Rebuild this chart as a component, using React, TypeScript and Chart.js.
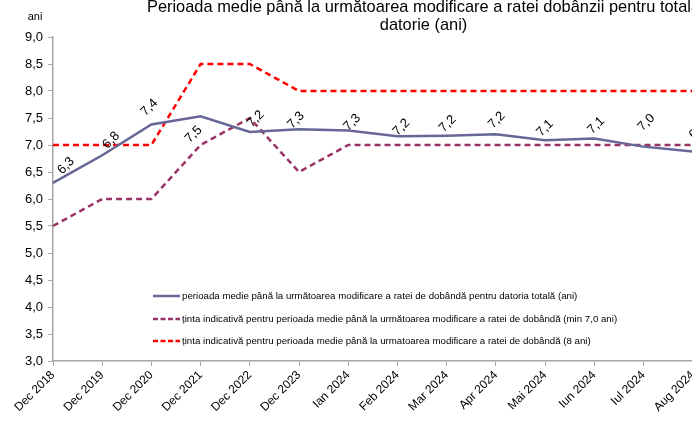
import React, { useEffect, useRef } from 'react';
import { Chart, registerables } from 'chart.js';

Chart.register(...registerables);

const CATEGORIES = [
  'Dec 2018', 'Dec 2019', 'Dec 2020', 'Dec 2021', 'Dec 2022', 'Dec 2023',
  'Ian 2024', 'Feb 2024', 'Mar 2024', 'Apr 2024', 'Mai 2024', 'Iun 2024', 'Iul 2024', 'Aug 2024',
];
const AVERAGE_PERIOD = [6.30, 6.81, 7.38, 7.53, 7.24, 7.29, 7.27, 7.16, 7.17, 7.20, 7.09, 7.12, 6.97, 6.88];
const TARGET_MIN = [5.5, 6.0, 6.0, 7.0, 7.5, 6.5, 7.0, 7.0, 7.0, 7.0, 7.0, 7.0, 7.0, 7.0];
const TARGET_8 = [7.0, 7.0, 7.0, 8.5, 8.5, 8.0, 8.0, 8.0, 8.0, 8.0, 8.0, 8.0, 8.0, 8.0];
const SERIES_LABELS = [
  'perioada medie până la următoarea modificare a ratei de dobândă pentru datoria totală (ani)',
  'ținta indicativă pentru perioada medie până la următoarea modificare a ratei de dobândă (min 7,0 ani)',
  'ținta indicativă pentru perioada medie până la urmatoarea modificare a ratei de dobândă (8 ani)',
];
const Y_MIN = 3;
const Y_MAX = 9;
const Y_STEP = 0.5;
const TITLE_LINES = [
  'Perioada medie până la următoarea modificare a ratei dobânzii pentru totală',
  'datorie (ani)',
];
const UNIT_LABEL = 'ani';

// style: offsets of the rotated value labels (label centre relative to point)
const LABEL_OFFSETS: [number, number][] = [
  [13, -17], [9, -15], [-2, -17], [-7, 18], [6, -13], [-3, -9], [4, -8],
  [4, -9], [1, -12], [1, -14], [0, -12], [2, -13], [3, -24], [5, -21],
];

const FONT = '"Liberation Sans", Arial, sans-serif';
const fmt = (v: number) => v.toFixed(1).replace('.', ',');

const decorPlugin = {
  id: 'decor',
  afterDatasetsDraw(chart: any) {
    const ctx = chart.ctx;
    const meta = chart.getDatasetMeta(0);
    ctx.save();
    ctx.font = `13px ${FONT}`;
    ctx.fillStyle = '#000';
    ctx.textAlign = 'center';
    ctx.textBaseline = 'middle';
    meta.data.forEach((pt: any, i: number) => {
      const [dx, dy] = LABEL_OFFSETS[i] || [0, -13];
      ctx.save();
      ctx.translate(pt.x + dx, pt.y + dy);
      ctx.rotate(-Math.PI / 4);
      ctx.fillText(fmt(AVERAGE_PERIOD[i]), 0, 0);
      ctx.restore();
    });
    ctx.restore();
  },
  afterDraw(chart: any) {
    const ctx = chart.ctx;
    ctx.save();
    // title
    ctx.font = `16.4px ${FONT}`;
    ctx.fillStyle = '#000';
    ctx.textAlign = 'center';
    ctx.textBaseline = 'alphabetic';
    ctx.fillText(TITLE_LINES[0], 423.5, 12);
    ctx.fillText(TITLE_LINES[1], 423.5, 30);
    // unit label
    ctx.font = `11px ${FONT}`;
    ctx.fillText(UNIT_LABEL, 35, 20);
    // legend
    const rows = [296, 319, 341];
    ctx.font = `9.7px ${FONT}`;
    ctx.textAlign = 'left';
    ctx.textBaseline = 'middle';
    chart.data.datasets.forEach((ds: any, i: number) => {
      const y = rows[i];
      ctx.save();
      ctx.strokeStyle = ds.borderColor;
      ctx.lineWidth = ds.borderWidth;
      ctx.setLineDash(ds.borderDash ? [5, 2.5] : []);
      ctx.beginPath();
      ctx.moveTo(153, y);
      ctx.lineTo(180, y);
      ctx.stroke();
      ctx.restore();
      ctx.fillStyle = '#000';
      ctx.fillText(ds.label, 182, y + 0.5);
    });
    ctx.restore();
  },
};

export default function App() {
  const ref = useRef<HTMLCanvasElement | null>(null);

  useEffect(() => {
    if (!ref.current) return;
    const chart = new Chart(ref.current, {
      type: 'line',
      data: {
        labels: CATEGORIES,
        datasets: [
          {
            label: SERIES_LABELS[0],
            data: AVERAGE_PERIOD,
            borderColor: '#666699',
            backgroundColor: '#666699',
            borderWidth: 2.5,
            pointRadius: 0,
            tension: 0,
          },
          {
            label: SERIES_LABELS[1],
            data: TARGET_MIN,
            borderColor: '#993366',
            backgroundColor: '#993366',
            borderWidth: 2.5,
            borderDash: [6, 4],
            pointRadius: 0,
            tension: 0,
          },
          {
            label: SERIES_LABELS[2],
            data: TARGET_8,
            borderColor: '#ff0000',
            backgroundColor: '#ff0000',
            borderWidth: 2.5,
            borderDash: [6, 4],
            pointRadius: 0,
            tension: 0,
          },
        ],
      },
      options: {
        responsive: false,
        animation: false,
        layout: { padding: { top: 37, right: 27.4, left: 0, bottom: 0 } },
        plugins: {
          legend: { display: false },
          title: { display: false },
          tooltip: { enabled: false },
        },
        scales: {
          x: {
            offset: false,
            afterFit: (s: any) => { s.height = 60; },
            grid: { drawOnChartArea: false, drawTicks: true, tickLength: 5, color: '#a6a6a6' },
            border: { color: '#a6a6a6', width: 1.5 },
            ticks: {
              autoSkip: false,
              maxRotation: 45,
              minRotation: 45,
              padding: 2,
              color: '#000',
              font: { family: FONT, size: 12 },
            },
          },
          y: {
            min: Y_MIN,
            max: Y_MAX,
            afterFit: (s: any) => { s.width = 53; },
            grid: { drawOnChartArea: false, drawTicks: true, tickLength: 5, color: '#a6a6a6' },
            border: { color: '#a6a6a6', width: 1.5 },
            ticks: {
              stepSize: Y_STEP,
              padding: 5,
              color: '#000',
              font: { family: FONT, size: 13 },
              callback: (v: any) => fmt(Number(v)),
            },
          },
        },
      },
      plugins: [decorPlugin],
    });
    return () => chart.destroy();
  }, []);

  return (
    <div style={{ position: 'fixed', left: 0, top: 0, width: 692, height: 421, overflow: 'hidden', background: '#fff' }}>
      <canvas ref={ref} width={720} height={421} style={{ width: 720, height: 421, display: 'block' }} />
    </div>
  );
}
